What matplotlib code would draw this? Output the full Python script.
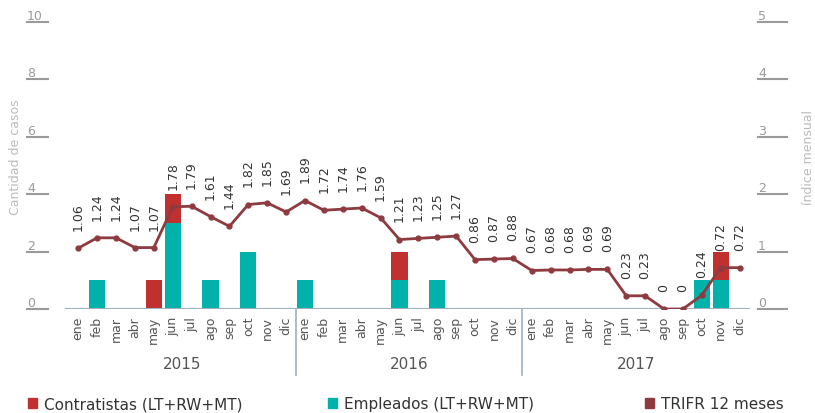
import matplotlib
matplotlib.use("Agg")
import matplotlib.pyplot as plt
import matplotlib.transforms as mtransforms
from matplotlib.patches import Patch

# datos
meses = ["ene", "feb", "mar", "abr", "may", "jun", "jul", "ago", "sep", "oct", "nov", "dic"]
anios = ["2015", "2016", "2017"]
empleados = [0, 1, 0, 0, 0, 3, 0, 1, 0, 2, 0, 0,
             1, 0, 0, 0, 0, 1, 0, 1, 0, 0, 0, 0,
             0, 0, 0, 0, 0, 0, 0, 0, 0, 1, 1, 0]
contratistas = [0, 0, 0, 0, 1, 1, 0, 0, 0, 0, 0, 0,
                0, 0, 0, 0, 0, 1, 0, 0, 0, 0, 0, 0,
                0, 0, 0, 0, 0, 0, 0, 0, 0, 0, 1, 0]
trifr = [1.06, 1.24, 1.24, 1.07, 1.07, 1.78, 1.79, 1.61, 1.44, 1.82, 1.85, 1.69,
         1.89, 1.72, 1.74, 1.76, 1.59, 1.21, 1.23, 1.25, 1.27, 0.86, 0.87, 0.88,
         0.67, 0.68, 0.68, 0.69, 0.69, 0.23, 0.23, 0, 0, 0.24, 0.72, 0.72]
ticks_casos = [0, 2, 4, 6, 8, 10]
ticks_indice = [0, 1, 2, 3, 4, 5]

ROJO = "#C0302F"
VERDE = "#00B2A9"
LINEA = "#8E3B40"
GRIS = "#9a9a9a"
EJE = "#9fb0bf"

plt.rcParams["font.family"] = ["DejaVu Sans"]

fig = plt.figure(figsize=(8.15, 4.14), dpi=100)
ax = fig.add_axes([65 / 815, 104 / 414, 685 / 815, 287 / 414])
ax2 = ax.twinx()

x = list(range(len(trifr)))
ax.bar(x, empleados, width=0.85, color=VERDE, zorder=2)
ax.bar(x, contratistas, width=0.85, bottom=empleados, color=ROJO, zorder=2)
ax.set_ylim(0, 10)
ax.set_xlim(-0.7, 35.55)

ax2.plot(x, trifr, color=LINEA, lw=2, marker="o", markersize=3.5, zorder=3)
ax2.set_ylim(0, 5)
ax.set_zorder(ax2.get_zorder() - 1)
ax.patch.set_visible(False)

for i, v in enumerate(trifr):
    txt = "0" if v == 0 else f"{v:.2f}"
    ax2.annotate(txt, (i, v), xytext=(0, 13), textcoords="offset points",
                 rotation=90, ha="center", va="bottom", fontsize=9, color="#333333")

for a in (ax, ax2):
    for s in a.spines.values():
        s.set_visible(False)
    a.set_yticks([])
ax.axhline(0, color=EJE, lw=1.5, zorder=4)

ax.set_xticks(x)
ax.set_xticklabels(meses * 3, rotation=90, fontsize=9, color="#555555")
ax.tick_params(axis="x", length=0, pad=5)

# separadores y años
for k in range(1, 3):
    ax.plot([12 * k - 0.5, 12 * k - 0.5], [0, -0.23], color=EJE, lw=1.2,
            transform=ax.get_xaxis_transform(), clip_on=False)
for k, anio in enumerate(anios):
    ax.text(12 * k + 5.5, -0.19, anio, transform=ax.get_xaxis_transform(),
            ha="center", va="center", fontsize=11, color="#555555")

# ejes con subrayado
tr_izq = mtransforms.blended_transform_factory(fig.transFigure, ax.transData)
for t in ticks_casos:
    fig.lines.append(plt.Line2D([27 / 815, 48 / 815], [t, t], transform=tr_izq,
                                color=GRIS, lw=1.5))
    fig.text(27 / 815, t, str(t), transform=tr_izq, fontsize=9, color=GRIS,
             ha="left", va="bottom")
tr_der = mtransforms.blended_transform_factory(fig.transFigure, ax2.transData)
for t in ticks_indice:
    fig.lines.append(plt.Line2D([758 / 815, 787 / 815], [t, t], transform=tr_der,
                                color=GRIS, lw=1.5))
    fig.text(758 / 815, t, str(t), transform=tr_der, fontsize=9, color=GRIS,
             ha="left", va="bottom")

fig.text(16 / 815, 0.62, "Cantidad de casos", rotation=90, ha="center", va="center",
         fontsize=9, color="#bbbbbb")
fig.text(808 / 815, 0.62, "índice mensual", rotation=90, ha="center", va="center",
         fontsize=9, color="#bbbbbb")

# leyenda
items = [(ROJO, "Contratistas (LT+RW+MT)", 20), (VERDE, "Empleados (LT+RW+MT)", 320),
         (LINEA, "TRIFR 12 meses", 637)]
for color, nombre, px in items:
    fig.legend(handles=[Patch(color=color, label=nombre)], loc="center left",
               bbox_to_anchor=(px / 815, 9 / 414), frameon=False, fontsize=11,
               handlelength=0.6, handleheight=0.6, handletextpad=0.5, borderpad=0,
               labelcolor="#333333")

fig.savefig("out.png", dpi=100)
